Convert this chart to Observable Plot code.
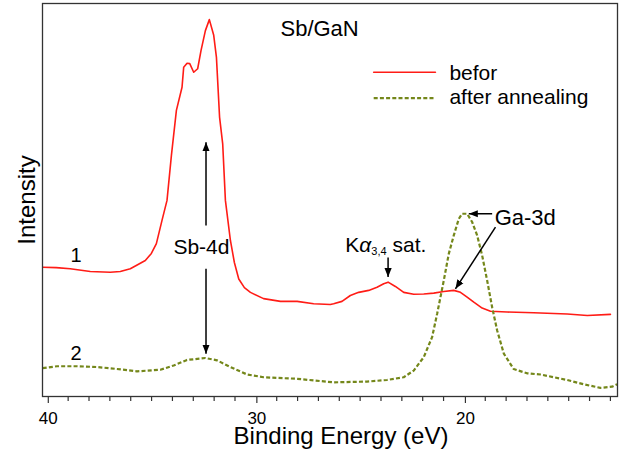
<!DOCTYPE html>
<html>
<head>
<meta charset="utf-8">
<script src="https://cdn.jsdelivr.net/npm/d3@7"></script>
<script src="https://cdn.jsdelivr.net/npm/@observablehq/plot@0.6"></script>
<style>
  html, body { margin: 0; padding: 0; background: #fff; }
  #chart svg { display: block; }
</style>
</head>
<body>
<div id="chart"></div>
<script>
// ---------- data (binding energy in eV, intensity in arbitrary units 0..100) ----------
const beforeEnergy = [40.22, 39.57, 38.90, 37.94, 36.98, 36.50, 36.02, 35.30, 35.01, 34.77, 34.50, 34.26, 34.05, 33.81, 33.54, 33.46, 33.30, 33.17, 32.98, 32.79, 32.63, 32.42, 32.23, 32.02, 31.89, 31.74, 31.59, 31.46, 31.22, 31.03, 30.82, 30.55, 30.26, 29.63, 28.82, 28.02, 27.23, 26.43, 26.27, 25.87, 25.47, 25.07, 24.59, 24.19, 23.87, 23.66, 23.31, 22.91, 22.43, 21.95, 21.47, 20.99, 20.51, 20.19, 19.87, 19.55, 19.15, 18.75, 17.95, 16.68, 15.07, 14.11, 13.00];
const beforeIntensity = [32.9, 32.8, 32.5, 31.8, 31.6, 31.8, 32.5, 34.6, 36.4, 38.9, 44.8, 49.9, 61.3, 72.8, 78.7, 83.8, 84.8, 84.7, 82.5, 83.4, 88.0, 93.1, 95.9, 91.9, 86.3, 71.1, 64.3, 49.9, 39.7, 34.1, 29.9, 27.7, 26.5, 24.9, 24.2, 24.2, 23.6, 23.4, 23.6, 24.2, 25.7, 26.5, 27.0, 27.8, 28.7, 29.1, 28.0, 26.5, 26.0, 26.1, 26.3, 26.7, 27.0, 26.5, 25.3, 24.0, 22.5, 21.7, 21.5, 21.3, 21.0, 20.6, 20.9];

const afterEnergy = [40.22, 39.53, 38.58, 37.62, 36.66, 35.70, 34.58, 33.94, 33.30, 32.42, 31.86, 31.22, 30.42, 29.63, 28.02, 26.27, 24.67, 23.71, 22.91, 22.43, 21.95, 21.55, 21.31, 20.99, 20.75, 20.51, 20.27, 20.11, 19.87, 19.63, 19.39, 19.15, 18.91, 18.67, 18.43, 18.11, 17.64, 17.00, 16.35, 15.72, 15.07, 14.28, 13.48, 12.92, 12.68];
const afterIntensity = [7.2, 7.7, 7.7, 7.5, 7.0, 6.4, 6.8, 7.9, 9.3, 9.8, 9.2, 7.5, 5.6, 4.9, 4.5, 3.6, 3.8, 4.2, 4.9, 6.6, 10.0, 15.1, 21.0, 29.5, 36.3, 41.0, 45.2, 46.5, 46.5, 44.4, 41.0, 35.9, 29.5, 22.7, 16.8, 10.9, 7.0, 5.9, 5.6, 4.9, 4.2, 3.1, 2.2, 2.5, 3.1];

const seriesNames = ["befor", "after annealing"];
const seriesColors = ["#ff1c16", "#74871a"];

const majorTicks = [40, 30, 20];
const minorTicks = [39, 38, 37, 36, 35, 34, 33, 32, 31, 29, 28, 27, 26, 25, 24, 23, 22, 21, 19, 18, 17, 16, 15, 14, 13];
const xDomain = [40.23, 12.66];
const yDomain = [0, 100];

const xTitle = "Binding Energy (eV)";
const yTitle = "Intensity";

// annotation arrows (data units)
const arrowX1 = [32.39, 32.39, 23.66, 18.67, 18.51];
const arrowY1 = [43.5, 32.5, 35.4, 46.5, 43.1];
const arrowX2 = [32.39, 32.39, 23.66, 19.79, 20.43];
const arrowY2 = [64.7, 10.9, 30.4, 46.5, 27.4];

// annotation labels (data units)
const startLabels = ["Sb/GaN", "Kα3,4 sat.", "Ga-3d"];
const startLabelX = [28.82, 25.71, 18.55];
const startLabelY = [93.6, 38.6, 45.5];
const startLabelSize = [22, 21, 22];

const midLabels = ["Sb-4d", "1", "2"];
const midLabelX = [32.61, 38.62, 38.62];
const midLabelY = [38.0, 35.8, 10.9];
const midLabelSize = [21, 20, 20];

// legend (data units)
const legendLineX = [24.35, 21.39];
const legendY = [82.5, 75.9];
const legendTextX = 20.72;
const legendTextY = [82.3, 76.2];

// ---------- build rows ----------
const before = beforeEnergy.map((e, i) => ({e, v: beforeIntensity[i]}));
const after = afterEnergy.map((e, i) => ({e, v: afterIntensity[i]}));
const arrows = arrowX1.map((x, i) => ({x1: x, y1: arrowY1[i], x2: arrowX2[i], y2: arrowY2[i]}));
const startRows = startLabels.map((t, i) => ({t, x: startLabelX[i], y: startLabelY[i], s: startLabelSize[i]}));
const midRows = midLabels.map((t, i) => ({t, x: midLabelX[i], y: midLabelY[i], s: midLabelSize[i]}));
const legendRed = legendLineX.map(x => ({x, y: legendY[0]}));
const legendGreen = legendLineX.map(x => ({x, y: legendY[1]}));
const legendText = seriesNames.map((t, i) => ({t, x: legendTextX, y: legendTextY[i]}));

const FONT = "'Liberation Sans', Arial, Helvetica, sans-serif";
const DASH = {stroke: seriesColors[1], strokeWidth: 2.2, strokeDasharray: "4,2.2", strokeLinecap: "butt", strokeLinejoin: "miter"};

const chart = Plot.plot({
  width: 624,
  height: 454,
  marginLeft: 42,
  marginRight: 7,
  marginTop: 3,
  marginBottom: 58,
  style: {fontFamily: FONT, fontSize: "16px", background: "#fff", color: "#000"},
  x: {domain: xDomain},
  y: {domain: yDomain, axis: null},
  marks: [
    Plot.axisX(minorTicks, {tickSize: 5, tickFormat: () => "", label: null, stroke: "#333", strokeWidth: 1.2}),
    Plot.axisX(majorTicks, {tickSize: 7, tickPadding: 8, fontSize: 17, label: null, stroke: "#333", strokeWidth: 1.2, fill: "#000", dx: 1}),
    Plot.line(before, {x: "e", y: "v", stroke: seriesColors[0], strokeWidth: 1.6}),
    Plot.line(after, {x: "e", y: "v", ...DASH}),
    Plot.link(arrows, {x1: "x1", y1: "y1", x2: "x2", y2: "y2", stroke: "#000", strokeWidth: 1.5}),
    Plot.text(startRows, {x: "x", y: "y", text: "t", fontSize: "s", textAnchor: "start", fill: "#000"}),
    Plot.text(midRows, {x: "x", y: "y", text: "t", fontSize: "s", textAnchor: "middle", fill: "#000"}),
    Plot.line(legendRed, {x: "x", y: "y", stroke: seriesColors[0], strokeWidth: 1.6}),
    Plot.line(legendGreen, {x: "x", y: "y", ...DASH}),
    Plot.text(legendText, {x: "x", y: "y", text: "t", fontSize: 21, textAnchor: "start", fill: "#000"}),
    Plot.text([xTitle], {text: d => d, frameAnchor: "bottom", textAnchor: "middle", lineAnchor: "middle", dy: 40, dx: 11, fontSize: 24, fill: "#000"}),
    Plot.text([yTitle], {text: d => d, frameAnchor: "left", textAnchor: "middle", lineAnchor: "middle", rotate: -90, dx: -15.3, fontSize: 24, fill: "#000"}),
    Plot.frame({stroke: "#333", strokeWidth: 1.3})
  ]
});

document.getElementById("chart").appendChild(chart);

const svg = d3.select(chart);

// tick label size (ensure, via style so it wins over inherited values)
svg.selectAll("text").filter(function () { return majorTicks.map(String).includes(this.textContent); })
  .style("font-size", "17px");

// filled triangular arrowheads on annotation arrows
const defs = svg.append("defs");
defs.append("marker")
  .attr("id", "tri-head")
  .attr("viewBox", "0 0 10 10")
  .attr("refX", 10)
  .attr("refY", 5)
  .attr("markerWidth", 9)
  .attr("markerHeight", 9)
  .attr("markerUnits", "userSpaceOnUse")
  .attr("orient", "auto")
  .append("path")
  .attr("d", "M0,1L10,5L0,9Z")
  .attr("fill", "#000");
svg.selectAll('g[aria-label="link"] path').attr("marker-end", "url(#tri-head)");

// K alpha with subscript
svg.selectAll("text").filter(function () { return this.textContent === "Kα3,4 sat."; }).each(function () {
  const t = d3.select(this);
  t.text(null);
  t.append("tspan").text("K");
  t.append("tspan").attr("font-style", "italic").text("α");
  t.append("tspan").attr("font-size", 11).attr("dy", 3).text("3,4");
  t.append("tspan").attr("dy", -3).text(" sat.");
});
</script>
</body>
</html>
